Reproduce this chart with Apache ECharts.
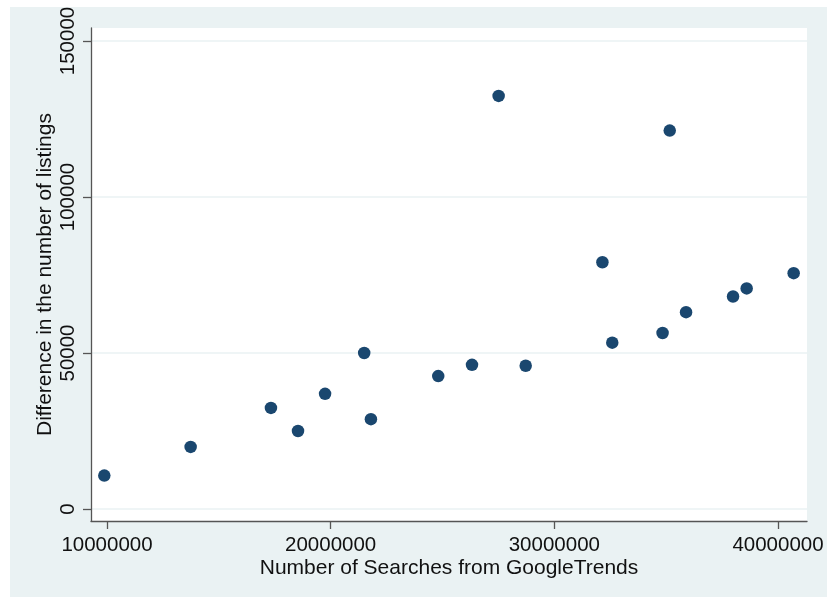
<!DOCTYPE html>
<html>
<head>
<meta charset="utf-8">
<script src="https://cdn.jsdelivr.net/npm/echarts@6/dist/echarts.min.js"></script>
<style>
html,body{margin:0;padding:0;background:#fff;}
#chart{width:827px;height:598px;}
</style>
</head>
<body>
<div id="chart"></div>
<script>
// Number of searches (x) and difference in listings (y)
var searches = [9880000, 13740000, 17330000, 18540000, 19750000, 21500000, 21800000,
  24810000, 26320000, 28720000, 27510000, 35160000, 32150000, 32590000, 34840000,
  35890000, 37990000, 38600000, 40700000];
var listingDiff = [10700, 19900, 32400, 25000, 36900, 50000, 28800,
  42600, 46200, 45900, 132400, 121300, 79100, 53300, 56400,
  63100, 68100, 70700, 75600];
var xTicks = [10000000, 20000000, 30000000, 40000000];
var yTicks = [0, 50000, 100000, 150000];
var xTitle = 'Number of Searches from GoogleTrends';
var yTitle = 'Difference in the number of listings';

var points = searches.map(function (v, i) { return [v, listingDiff[i]]; });

var chart = echarts.init(document.getElementById('chart'), null, {renderer: 'canvas'});
var font = 'Liberation Sans, Arial, sans-serif';
chart.setOption({
  animation: false,
  backgroundColor: '#ffffff',
  graphic: [{
    type: 'rect', z: -10, silent: true,
    shape: {x: 10, y: 7, width: 817, height: 590},
    style: {fill: '#eaf2f3'}
  }],
  grid: {
    left: 91, top: 28, right: 20, bottom: 77,
    show: true, backgroundColor: '#ffffff', borderWidth: 0
  },
  xAxis: {
    type: 'value',
    min: 9285000, max: 41297000,
    name: xTitle, nameLocation: 'middle', nameGap: 37, nameMoveOverlap: false,
    nameTextStyle: {fontFamily: font, fontSize: 21, color: '#111'},
    axisLine: {show: true, onZero: false, lineStyle: {color: '#555', width: 1.3}},
    axisTick: {show: true, length: 8, customValues: xTicks, lineStyle: {color: '#555', width: 1.3}},
    axisLabel: {customValues: xTicks, margin: 14, fontFamily: font, fontSize: 20.5, color: '#111',
      formatter: function (v) { return String(Math.round(v)); }},
    splitLine: {show: false}
  },
  yAxis: {
    type: 'value',
    min: -3846, max: 154167,
    name: yTitle, nameLocation: 'middle', nameGap: 35, nameRotate: 90, nameMoveOverlap: false,
    nameTextStyle: {fontFamily: font, fontSize: 21, color: '#111'},
    axisLine: {show: true, onZero: false, lineStyle: {color: '#555', width: 1.3}},
    axisTick: {show: true, length: 8, customValues: yTicks, lineStyle: {color: '#555', width: 1.3}},
    axisLabel: {customValues: yTicks, rotate: 90, margin: 12, fontFamily: font, fontSize: 20.5, color: '#111',
      formatter: function (v) { return String(Math.round(v)); }},
    splitLine: {show: true, lineStyle: {color: '#eaf2f3', width: 1.5}}
  },
  series: [{
    type: 'scatter',
    data: points,
    symbol: 'circle',
    symbolSize: 12.5,
    itemStyle: {color: '#1a476f', opacity: 1}
  }]
});
</script>
</body>
</html>
